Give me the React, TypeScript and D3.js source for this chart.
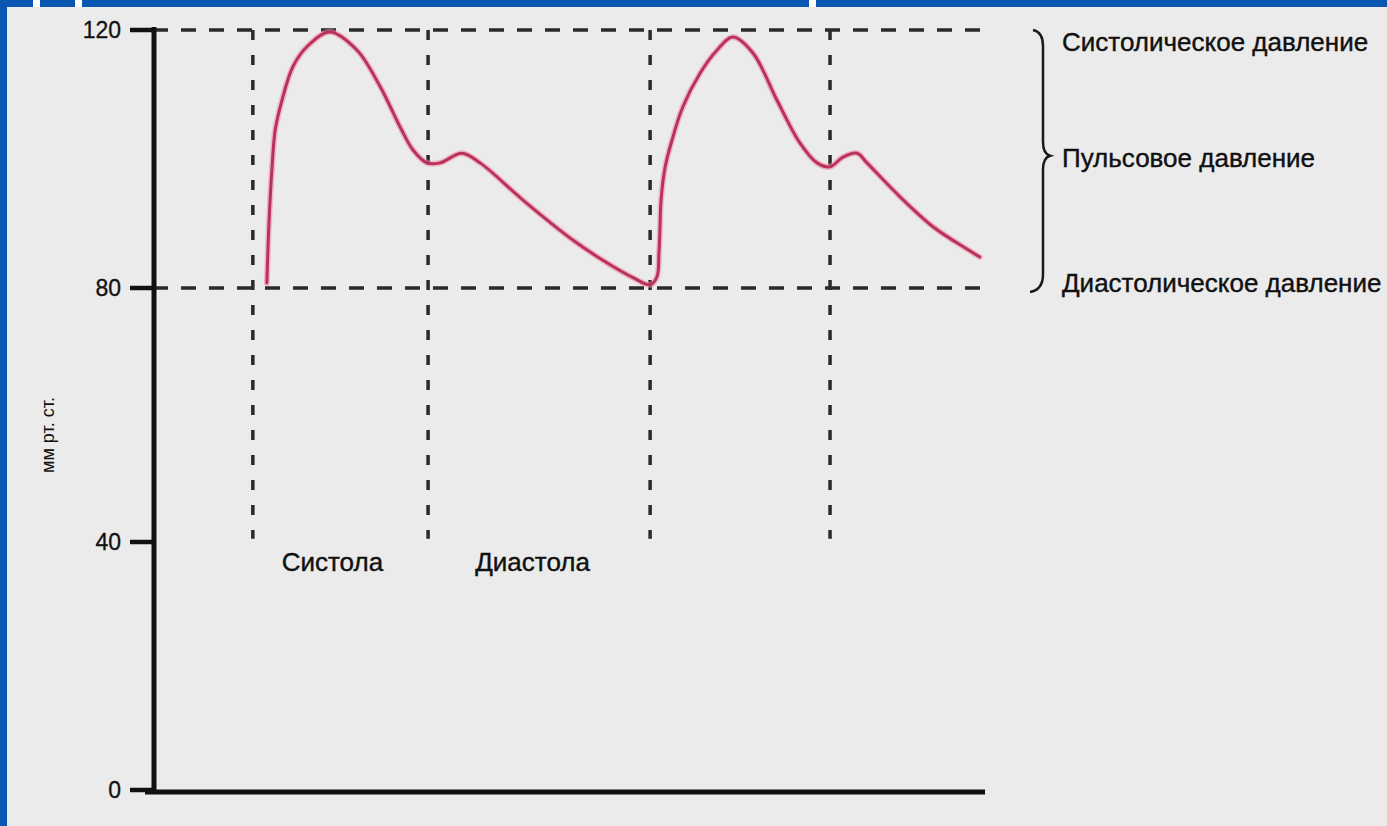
import React from "react";
import * as d3 from "d3";

const W = 1387;
const H = 826;

// Pressure curve (time in ms, pressure in mm Hg)
const TIME_MS = [219, 223, 229, 235, 248, 269, 296, 340, 392, 437, 475, 500, 527, 552, 594, 629, 712, 808, 873, 923, 956, 969, 973, 975, 977, 985, 998, 1019, 1052, 1085, 1115, 1154, 1200, 1244, 1277, 1302, 1327, 1354, 1373, 1437, 1500, 1546, 1590];
const PRESSURE = [80.8, 90.0, 98.8, 104.5, 109.1, 114.3, 117.4, 119.7, 116.9, 111.2, 105.0, 101.4, 99.4, 99.4, 100.9, 99.4, 93.6, 87.4, 83.9, 81.6, 80.5, 81.7, 85.4, 89.5, 93.6, 98.8, 102.9, 108.1, 113.3, 116.9, 118.9, 116.4, 109.1, 102.5, 99.4, 98.8, 100.3, 100.9, 99.4, 94.1, 89.5, 87.0, 84.8];

const Y_TICKS = [0, 40, 80, 120];
const REF_LEVELS = [120, 80];
const PHASE_BOUNDS_MS = [192, 529, 956, 1302];
const PHASE_LABELS = [
  { text: "Систола", t: 345 },
  { text: "Диастола", t: 730 },
];
const RIGHT_LABELS = [
  { text: "Систолическое давление", p: 118.2 },
  { text: "Пульсовое давление", p: 100.2 },
  { text: "Диастолическое давление", p: 80.8 },
];
const Y_TITLE = "мм рт. ст.";

const x = d3.scaleLinear().domain([0, 1600]).range([153, 985]);
const y = d3.scaleLinear().domain([0, 40, 80, 120]).range([790, 542, 288, 30]);

export default function App() {
  const pts: [number, number][] = TIME_MS.map((t, i) => [t, PRESSURE[i]]);
  const line = d3
    .line<[number, number]>()
    .x((d) => x(d[0]))
    .y((d) => y(d[1]))
    .curve(d3.curveCatmullRom.alpha(0.5));
  const dPath = line(pts) || "";

  const y120 = y(120);
  const y80 = y(80);
  const bx = 1043;
  const mid = y(100.5);
  const brace = `M${bx - 10},${y120} Q${bx},${y120 + 2} ${bx},${y120 + 16} L${bx},${mid - 14} Q${bx},${mid - 2} ${bx + 7},${mid} Q${bx},${mid + 2} ${bx},${mid + 14} L${bx},${y80 - 14} Q${bx},${y80 + 2} ${bx - 13},${y80 + 4}`;

  const font = "'Liberation Sans', Arial, Helvetica, sans-serif";

  return (
    <svg
      width={W}
      height={H}
      style={{ position: "fixed", left: 0, top: 0, display: "block" }}
      fontFamily={font}
    >
      <rect x={0} y={0} width={W} height={H} fill="#0856b2" />
      <rect x={7} y={7} width={W - 7} height={H - 7} fill="#ebebeb" />
      <rect x={33} y={0} width={7} height={7} fill="#ffffff" />
      <rect x={75} y={0} width={7} height={7} fill="#ffffff" />
      <rect x={809} y={0} width={7} height={7} fill="#ffffff" />

      {/* reference dashed horizontals */}
      {REF_LEVELS.map((v) => (
        <line
          key={"h" + v}
          x1={x(0)}
          x2={x(1600)}
          y1={y(v)}
          y2={y(v)}
          stroke="#2a2a2a"
          strokeWidth={3.5}
          strokeDasharray="15 13"
        />
      ))}
      {/* phase boundaries */}
      {PHASE_BOUNDS_MS.map((t) => (
        <line
          key={"v" + t}
          x1={x(t)}
          x2={x(t)}
          y1={y(120)}
          y2={y(40.5)}
          stroke="#2a2a2a"
          strokeWidth={3.5}
          strokeDasharray="10 15"
        />
      ))}

      {/* axes */}
      <line x1={154} x2={154} y1={y(120) - 3} y2={y(0) + 4} stroke="#111" strokeWidth={5} />
      <line x1={145} x2={985} y1={y(0) + 2} y2={y(0) + 2} stroke="#111" strokeWidth={5} />
      {Y_TICKS.map((v) => (
        <g key={"t" + v}>
          <line x1={130} x2={156} y1={y(v)} y2={y(v)} stroke="#111" strokeWidth={4.5} />
          <text
            x={121}
            y={y(v)}
            textAnchor="end"
            dominantBaseline="central"
            fontSize={23}
            fill="#111"
            stroke="#111"
            strokeWidth={0.3}
          >
            {v}
          </text>
        </g>
      ))}
      <text
        transform={`translate(48,435) rotate(-90)`}
        textAnchor="middle"
        dominantBaseline="central"
        fontSize={18}
        fill="#111"
      >
        {Y_TITLE}
      </text>

      {/* pressure curve */}
      <path d={dPath} fill="none" stroke="#ee8aa8" strokeWidth={6} strokeOpacity={0.55} strokeLinejoin="round" strokeLinecap="round" />
      <path d={dPath} fill="none" stroke="#b8325a" strokeWidth={3} strokeLinejoin="round" strokeLinecap="round" />

      {/* phase labels */}
      {PHASE_LABELS.map((l) => (
        <text key={l.text} x={x(l.t)} y={571} textAnchor="middle" fontSize={26} fill="#111" stroke="#111" strokeWidth={0.4}>
          {l.text}
        </text>
      ))}

      {/* brace and right labels */}
      <path d={brace} fill="none" stroke="#1a1a1a" strokeWidth={2.5} />
      {RIGHT_LABELS.map((l) => (
        <text key={l.text} x={1062} y={y(l.p)} dominantBaseline="central" fontSize={26} fill="#111" stroke="#111" strokeWidth={0.4}>
          {l.text}
        </text>
      ))}
    </svg>
  );
}
